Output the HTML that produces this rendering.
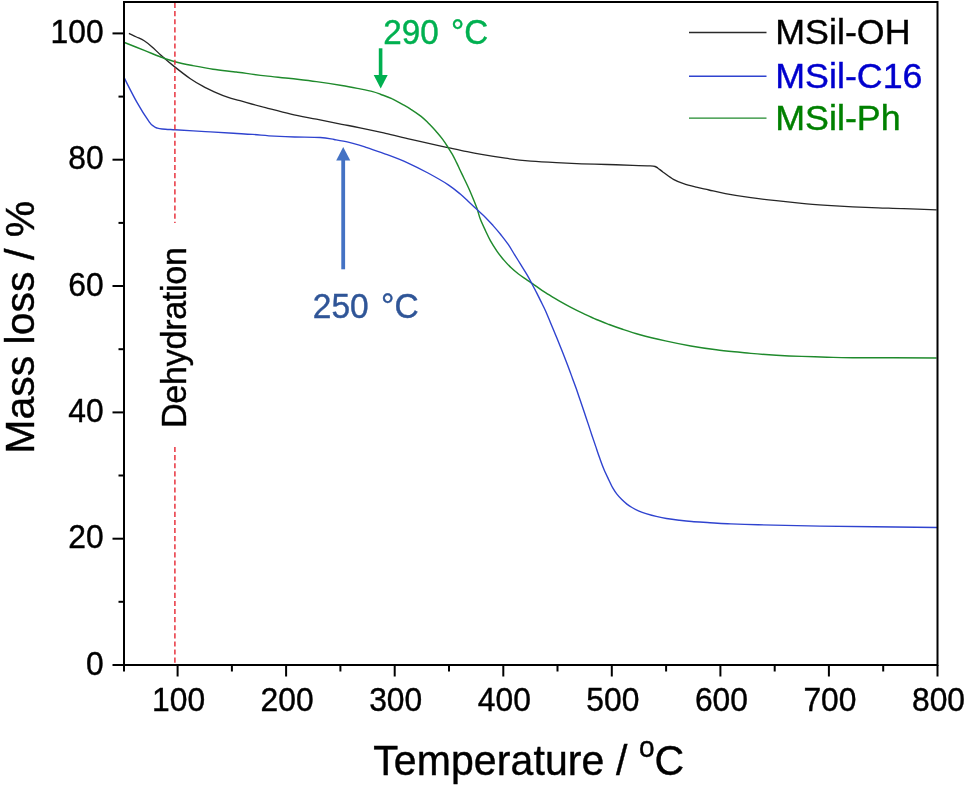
<!DOCTYPE html>
<html><head><meta charset="utf-8"><title>TGA</title>
<style>
html,body{margin:0;padding:0;background:#fff;}
svg{display:block;font-family:"Liberation Sans",sans-serif;}
</style></head><body>
<svg width="965" height="786" viewBox="0 0 965 786">
<rect width="965" height="786" fill="#fff"/>
<g fill="none" stroke-linejoin="round">
<path stroke="#262626" stroke-width="1.35" d="M128.9,33.4 C130.2,34.0 133.9,35.8 136.5,37.0 C139.1,38.2 141.6,39.1 144.2,40.7 C146.8,42.3 149.1,44.3 151.8,46.7 C154.6,49.1 157.0,51.7 160.7,55.0 C164.4,58.3 169.2,62.5 174.1,66.4 C179.0,70.3 185.2,75.2 190.0,78.5 C194.8,81.8 198.5,83.9 202.7,86.2 C206.9,88.5 211.2,90.4 215.4,92.3 C219.7,94.2 224.1,96.0 228.2,97.4 C232.3,98.8 233.8,99.0 240.0,100.7 C246.2,102.4 257.0,105.5 265.5,107.7 C274.0,109.9 282.4,112.2 290.9,114.1 C299.4,116.0 307.9,117.5 316.4,119.2 C324.9,120.9 334.5,122.9 341.8,124.3 C349.1,125.7 352.7,126.3 360.0,127.8 C367.3,129.3 377.0,131.5 385.5,133.4 C394.0,135.3 402.4,137.5 410.9,139.4 C419.4,141.3 430.0,143.7 436.4,145.1 C442.8,146.5 444.9,147.0 449.1,147.9 C453.3,148.8 456.7,149.6 461.8,150.6 C466.9,151.6 472.7,152.9 480.0,154.2 C487.3,155.5 496.9,157.0 505.4,158.2 C513.9,159.4 522.4,160.4 530.9,161.2 C539.4,161.9 547.8,162.3 556.3,162.7 C564.8,163.1 573.3,163.5 581.8,163.8 C590.3,164.1 598.7,164.2 607.2,164.5 C615.7,164.8 625.6,165.1 632.7,165.3 C639.8,165.5 646.3,165.7 650.0,165.9 C653.7,166.1 653.8,166.1 655.1,166.5 C656.4,166.9 656.6,167.2 658.0,168.2 C659.4,169.1 660.6,170.3 663.2,172.2 C665.8,174.0 670.0,177.4 673.4,179.3 C676.8,181.2 679.8,182.3 683.6,183.6 C687.4,184.9 692.1,186.1 696.3,187.2 C700.5,188.3 704.1,188.9 709.0,190.0 C713.9,191.1 718.4,192.3 725.4,193.6 C732.4,194.9 742.4,196.5 750.9,197.7 C759.4,198.9 767.8,199.8 776.3,200.7 C784.8,201.6 793.3,202.5 801.8,203.3 C810.3,204.1 818.7,204.7 827.2,205.3 C835.7,205.9 844.2,206.4 852.7,206.8 C861.2,207.2 869.6,207.5 878.1,207.8 C886.6,208.1 893.9,208.2 903.6,208.6 C913.4,208.9 931.1,209.7 936.6,209.9"/>
<path stroke="#1f8a2c" stroke-width="1.45" d="M124.5,42.5 C127.8,43.8 138.5,48.1 144.3,50.4 C150.2,52.7 154.5,54.6 159.6,56.5 C164.7,58.4 169.4,60.3 174.9,61.8 C180.4,63.3 186.3,64.4 192.7,65.6 C199.0,66.8 206.2,68.2 213.0,69.2 C219.8,70.2 228.9,71.2 233.4,71.8 C237.9,72.3 234.7,71.8 240.0,72.5 C245.3,73.2 257.0,74.9 265.5,75.9 C274.0,76.9 282.4,77.5 290.9,78.5 C299.4,79.5 307.9,80.4 316.4,81.6 C324.9,82.8 334.5,84.3 341.8,85.5 C349.1,86.7 354.9,87.9 360.0,88.9 C365.1,89.9 369.3,90.7 372.7,91.6 C376.1,92.5 377.2,93.0 380.4,94.2 C383.6,95.4 388.2,96.9 391.8,98.6 C395.4,100.2 398.8,102.3 402.0,104.1 C405.2,105.9 407.7,107.2 410.9,109.3 C414.1,111.3 418.1,114.1 421.1,116.4 C424.1,118.8 426.1,120.9 428.7,123.4 C431.2,126.0 434.1,129.0 436.4,131.7 C438.7,134.4 440.8,136.8 442.7,139.4 C444.6,142.0 446.1,144.3 447.8,147.0 C449.5,149.7 451.4,152.7 452.9,155.3 C454.4,158.0 455.5,160.5 456.7,162.9 C457.9,165.3 458.8,167.4 459.9,169.8 C461.0,172.2 462.0,174.1 463.6,177.5 C465.2,180.9 467.8,186.1 469.5,190.0 C471.2,193.9 472.7,197.6 474.0,200.8 C475.3,204.0 476.1,206.0 477.2,209.1 C478.3,212.2 479.0,215.7 480.4,219.3 C481.8,222.9 483.8,227.1 485.5,230.7 C487.2,234.3 488.6,237.5 490.5,240.9 C492.4,244.3 494.8,248.0 496.9,251.1 C499.0,254.2 501.0,256.6 503.3,259.4 C505.6,262.1 508.4,265.2 510.9,267.6 C513.4,270.0 516.0,272.1 518.5,274.0 C521.0,275.9 523.9,277.7 526.2,279.3 C528.5,280.9 529.3,281.4 532.5,283.6 C535.7,285.8 541.2,289.9 545.5,292.7 C549.8,295.5 554.0,297.9 558.2,300.4 C562.4,302.8 566.7,305.2 570.9,307.4 C575.1,309.6 579.4,311.7 583.6,313.7 C587.9,315.7 592.1,317.7 596.4,319.5 C600.6,321.3 604.9,322.9 609.1,324.5 C613.3,326.1 616.6,327.3 621.8,329.0 C626.9,330.7 632.7,332.7 640.0,334.7 C647.3,336.7 656.9,339.0 665.4,340.9 C673.9,342.8 682.3,344.5 690.8,346.0 C699.3,347.5 708.1,348.8 716.3,349.8 C724.5,350.9 734.2,351.7 740.0,352.3 C745.8,352.9 744.9,352.9 750.9,353.4 C756.9,353.9 767.8,354.7 776.3,355.2 C784.8,355.7 793.3,356.1 801.8,356.4 C810.3,356.7 818.7,357.0 827.2,357.2 C835.7,357.4 834.5,357.6 852.7,357.7 C870.9,357.8 922.6,357.9 936.6,358.0"/>
<path stroke="#2f43cf" stroke-width="1.4" d="M124.5,78.4 C126.5,82.3 132.5,94.5 136.7,101.8 C140.8,109.1 146.5,118.0 149.4,122.1 C152.3,126.2 152.7,125.5 154.0,126.5 C155.3,127.5 155.7,127.6 157.0,128.0 C158.3,128.4 159.1,128.7 162.1,129.0 C165.1,129.3 167.7,129.4 174.9,129.8 C182.1,130.2 195.7,131.0 205.4,131.6 C215.2,132.2 225.5,132.7 233.4,133.2 C241.3,133.7 245.9,133.9 252.7,134.4 C259.5,134.9 267.4,135.7 274.4,136.1 C281.4,136.5 287.1,136.8 294.7,137.0 C302.3,137.2 313.6,137.1 320.2,137.5 C326.8,137.9 329.5,138.7 334.2,139.5 C338.9,140.3 343.9,141.1 348.2,142.1 C352.5,143.1 356.9,144.4 360.0,145.3 C363.1,146.2 362.4,146.0 366.9,147.6 C371.4,149.2 380.4,152.2 387.2,154.7 C394.0,157.2 400.8,159.8 407.6,162.8 C414.4,165.9 421.2,169.3 428.0,173.0 C434.8,176.7 443.0,181.3 448.3,184.8 C453.6,188.3 456.8,191.1 460.0,193.8 C463.2,196.5 464.9,198.2 467.6,200.8 C470.4,203.4 473.5,206.3 476.5,209.1 C479.5,211.9 482.7,214.7 485.5,217.4 C488.3,220.2 490.6,222.8 493.1,225.6 C495.6,228.4 498.1,231.3 500.7,234.5 C503.2,237.7 506.1,241.3 508.4,244.7 C510.7,248.1 512.6,251.5 514.7,254.9 C516.8,258.3 519.0,261.7 521.1,265.1 C523.2,268.5 525.5,272.1 527.4,275.3 C529.3,278.5 531.0,282.0 532.3,284.5 C533.6,287.0 533.9,287.6 535.3,290.2 C536.6,292.8 538.7,296.9 540.4,300.4 C542.1,303.9 544.1,307.6 545.7,311.2 C547.3,314.8 548.6,318.1 550.2,322.0 C551.8,325.9 553.8,330.5 555.5,334.7 C557.2,338.9 558.9,342.9 560.7,347.4 C562.5,351.8 564.7,357.5 566.2,361.4 C567.7,365.2 568.6,367.7 569.6,370.5 C570.6,373.3 571.4,375.3 572.5,378.4 C573.6,381.5 575.1,385.4 576.4,389.1 C577.7,392.8 579.0,396.7 580.3,400.5 C581.6,404.3 582.9,408.2 584.2,412.0 C585.5,415.8 586.7,419.6 588.0,423.4 C589.3,427.2 590.5,431.1 591.8,434.9 C593.1,438.7 594.4,442.6 595.7,446.4 C597.0,450.2 598.2,454.0 599.6,457.8 C601.0,461.6 602.3,465.4 603.9,469.2 C605.5,473.0 607.6,477.3 609.1,480.5 C610.6,483.7 611.6,486.0 612.9,488.2 C614.2,490.4 615.2,492.0 616.7,493.9 C618.2,495.8 620.1,497.9 621.8,499.6 C623.5,501.3 625.2,502.8 626.9,504.1 C628.6,505.4 630.1,506.4 632.0,507.5 C633.9,508.6 636.1,509.8 638.4,510.8 C640.7,511.8 643.0,512.7 646.0,513.6 C649.0,514.5 652.8,515.6 656.2,516.4 C659.6,517.2 662.6,517.9 666.4,518.5 C670.2,519.1 674.9,519.7 679.1,520.2 C683.3,520.7 686.6,521.1 691.8,521.5 C696.9,521.9 704.0,522.3 710.0,522.7 C716.0,523.1 719.6,523.4 727.6,523.8 C735.6,524.1 742.7,524.4 758.1,524.8 C773.5,525.2 790.2,525.6 820.0,526.1 C849.8,526.6 917.5,527.3 937.0,527.5"/>
</g>
<g stroke="#e8343f" stroke-width="1.5" stroke-dasharray="5.1 3" fill="none">
<line x1="174.9" y1="3" x2="174.9" y2="223"/>
<line x1="174.9" y1="447" x2="174.9" y2="665"/>
</g>
<rect x="124" y="2" width="813.5" height="663" fill="none" stroke="#000" stroke-width="2"/>
<g stroke="#000" stroke-width="2">
<line x1="124.0" y1="665" x2="124.0" y2="671.5"/>
<line x1="177.6" y1="665" x2="177.6" y2="676.5"/>
<line x1="231.9" y1="665" x2="231.9" y2="671.5"/>
<line x1="286.1" y1="665" x2="286.1" y2="676.5"/>
<line x1="340.4" y1="665" x2="340.4" y2="671.5"/>
<line x1="394.7" y1="665" x2="394.7" y2="676.5"/>
<line x1="449.0" y1="665" x2="449.0" y2="671.5"/>
<line x1="503.3" y1="665" x2="503.3" y2="676.5"/>
<line x1="557.5" y1="665" x2="557.5" y2="671.5"/>
<line x1="611.8" y1="665" x2="611.8" y2="676.5"/>
<line x1="666.1" y1="665" x2="666.1" y2="671.5"/>
<line x1="720.4" y1="665" x2="720.4" y2="676.5"/>
<line x1="774.7" y1="665" x2="774.7" y2="671.5"/>
<line x1="828.9" y1="665" x2="828.9" y2="676.5"/>
<line x1="883.2" y1="665" x2="883.2" y2="671.5"/>
<line x1="937.5" y1="665" x2="937.5" y2="676.5"/>
<line x1="124" y1="665.0" x2="112.5" y2="665.0"/>
<line x1="124" y1="601.8" x2="118.5" y2="601.8"/>
<line x1="124" y1="538.7" x2="112.5" y2="538.7"/>
<line x1="124" y1="475.5" x2="118.5" y2="475.5"/>
<line x1="124" y1="412.4" x2="112.5" y2="412.4"/>
<line x1="124" y1="349.2" x2="118.5" y2="349.2"/>
<line x1="124" y1="286.0" x2="112.5" y2="286.0"/>
<line x1="124" y1="222.9" x2="118.5" y2="222.9"/>
<line x1="124" y1="159.7" x2="112.5" y2="159.7"/>
<line x1="124" y1="96.6" x2="118.5" y2="96.6"/>
<line x1="124" y1="33.4" x2="112.5" y2="33.4"/>
</g>
<g font-size="31.8" fill="#000" stroke="#000" stroke-width="0.4">
<text transform="translate(178.6,710.6) scale(1,1.06)" text-anchor="middle">100</text>
<text transform="translate(287.1,710.6) scale(1,1.06)" text-anchor="middle">200</text>
<text transform="translate(395.7,710.6) scale(1,1.06)" text-anchor="middle">300</text>
<text transform="translate(504.3,710.6) scale(1,1.06)" text-anchor="middle">400</text>
<text transform="translate(612.8,710.6) scale(1,1.06)" text-anchor="middle">500</text>
<text transform="translate(721.4,710.6) scale(1,1.06)" text-anchor="middle">600</text>
<text transform="translate(829.9,710.6) scale(1,1.06)" text-anchor="middle">700</text>
<text transform="translate(938.5,710.6) scale(1,1.06)" text-anchor="middle">800</text>
<text transform="translate(103.6,674.6) scale(1,1.06)" text-anchor="end">0</text>
<text transform="translate(103.6,548.3) scale(1,1.06)" text-anchor="end">20</text>
<text transform="translate(103.6,422.0) scale(1,1.06)" text-anchor="end">40</text>
<text transform="translate(103.6,295.6) scale(1,1.06)" text-anchor="end">60</text>
<text transform="translate(103.6,169.3) scale(1,1.06)" text-anchor="end">80</text>
<text transform="translate(103.6,43.0) scale(1,1.06)" text-anchor="end">100</text>
</g>
<text transform="translate(373.2,774.8) scale(1,1.04)" font-size="41" fill="#000" stroke="#000" stroke-width="0.4" textLength="311" lengthAdjust="spacing">Temperature / <tspan font-size="28" dy="-17">o</tspan><tspan dy="17">C</tspan></text>
<text transform="translate(33.8,327.3) rotate(-90)" font-size="41" text-anchor="middle" fill="#000" stroke="#000" stroke-width="0.4">Mass loss / %</text>
<text transform="translate(185.8,428) rotate(-90)" font-size="34.3" fill="#000" stroke="#000" stroke-width="0.4" textLength="181" lengthAdjust="spacing">Dehydration</text>
<!-- legend -->
<g stroke-width="1.4">
<line x1="689" y1="32.5" x2="766.5" y2="32.5" stroke="#2a2a2a"/>
<line x1="689" y1="76.2" x2="766.5" y2="76.2" stroke="#2f43cf"/>
<line x1="689" y1="118.1" x2="766.5" y2="118.1" stroke="#1f8a2c"/>
</g>
<g font-size="35.8" stroke-width="0.4">
<text x="775.3" y="44" fill="#000" stroke="#000">MSil-OH</text>
<text x="775.3" y="87.5" fill="#0000cd" stroke="#0000cd">MSil-C16</text>
<text x="775.3" y="130.2" fill="#008000" stroke="#008000">MSil-Ph</text>
</g>
<!-- annotations -->
<text transform="translate(383.3,43.5) scale(1,1.05)" font-size="33.2" fill="#00b050" stroke="#00b050" stroke-width="0.4">290 <tspan dx="3">°C</tspan></text>
<g fill="#00b050"><rect x="378.8" y="48.3" width="3.6" height="28"/><polygon points="373.7,75 387.7,75 380.7,88.5"/></g>
<text transform="translate(312.8,318.2) scale(1,1.07)" font-size="33.5" fill="#2f5597" stroke="#2f5597" stroke-width="0.4">250 <tspan dx="3">°C</tspan></text>
<g fill="#4472c4"><rect x="341.3" y="159" width="3.8" height="110.3"/><polygon points="336.2,160.6 350.3,160.6 343.2,147"/></g>
</svg>
</body></html>
